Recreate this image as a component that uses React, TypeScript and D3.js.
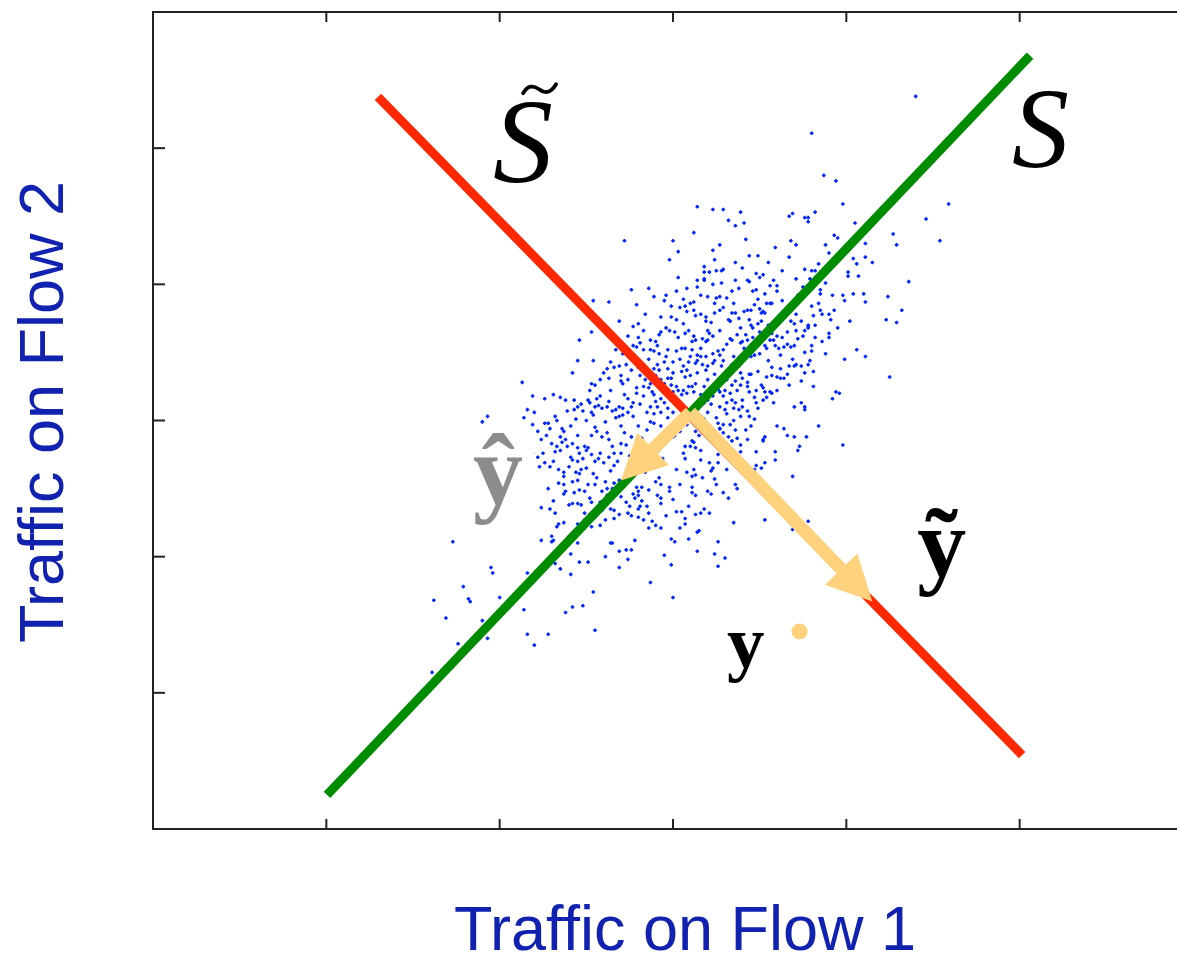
import React from "react";
import * as d3 from "d3";

// Axis ticks (labels are not shown in the figure)
const xTicks = [1, 2, 3, 4, 5];
const yTicks = [1, 2, 3, 4, 5];

// Subspaces (line end points in data units)
const normalSubspace: [number, number][] = [[1.004, 0.25], [5.06, 5.68]];
const anomalousSubspace: [number, number][] = [[1.298, 5.376], [5.014, 0.543]];

// Projection arrows and the measurement point
const projOrigin: [number, number] = [3.1, 3.06];
const projModeled: [number, number] = [2.7, 2.56];
const projResidual: [number, number] = [4.15, 1.67];
const measurement: [number, number] = [3.73, 1.45];

// Traffic samples, grouped by where they sit in the cloud
const upperCloud: [number, number][] = [
  [4.40,5.38],[3.80,5.11],[3.87,4.80],[3.94,4.76],[3.98,4.59],[4.59,4.59],[4.46,4.48],[4.05,4.45],[4.54,4.32],[4.27,4.37],
  [4.29,4.29],[3.14,4.57],[3.23,4.55],[3.29,4.55],[3.39,4.53],[3.32,4.47],[3.36,4.43],[3.41,4.45],[3.12,4.38],[3.00,4.32],
  [2.72,4.32],[3.03,4.24],[2.98,4.18],[3.42,4.33],[3.27,4.29],[3.23,4.25],[3.24,4.18],[3.67,4.50],[3.69,4.52],[3.76,4.49],
  [3.78,4.49],[3.78,4.46],[3.82,4.53],[3.68,4.32],[3.71,4.29],[3.59,4.27],[3.67,4.20],[3.55,4.16],[3.44,4.21],[3.49,4.21],
  [3.36,4.16],[3.40,4.12],[3.93,4.36],[3.95,4.34],[3.88,4.29],[3.90,4.23],[3.84,4.15],[3.82,4.10],[3.80,4.10],[3.76,4.11],
  [3.63,4.10],[4.11,4.30],[4.11,4.20],[4.15,4.16],[4.04,4.19],[4.06,4.15],[4.01,4.09],[4.01,4.06],[4.07,4.06],[3.03,4.05],
  [3.18,4.13],[3.18,4.09],[3.21,4.09],[3.25,4.10],[3.28,4.10],[3.29,4.11],[3.48,4.08],[3.50,4.05],[3.71,4.04],[3.79,4.04],
  [3.18,4.04]
];

const rightCloud: [number, number][] = [
  [4.36,4.02],[4.24,3.91],[4.32,3.81],[4.23,3.74],[4.29,3.72],[4.25,3.32],[4.11,3.87],[4.10,3.93],[4.04,3.93],[3.98,3.92],
  [3.99,3.88],[3.92,3.92],[3.88,4.01],[3.85,3.96],[3.85,3.93],[4.02,3.73],[3.95,3.68],[3.93,3.81],[3.90,3.78],[3.85,3.81],
  [3.86,3.78],[3.81,3.77],[3.80,3.84],[3.78,3.69],[3.74,3.73],[3.90,3.64],[3.90,3.61],[4.06,3.52],[4.11,3.47],[3.99,3.45],
  [3.88,3.49],[3.80,3.55],[3.80,3.51],[3.82,3.61],[3.75,3.62],[3.78,3.68],[3.78,3.70],[3.76,3.66],[3.71,3.66],[3.70,3.71],
  [3.68,3.73],[3.66,3.65],[3.63,3.61],[3.68,3.54],[3.64,3.54],[3.61,3.53],[3.59,3.55],[3.58,3.59],[3.60,3.62],[3.57,3.64],
  [3.60,3.95],[3.56,3.99],[3.58,4.03],[3.53,3.93],[3.48,3.96],[3.46,3.95],[3.43,4.03],[3.44,4.02],[3.34,3.95],[3.28,4.01],
  [3.23,4.00],[3.20,3.91],[3.27,3.91],[3.25,3.90],[3.14,3.98],[3.12,3.87],[3.10,3.86],[3.07,3.84],[3.06,3.89],[3.08,3.97],
  [3.14,4.03],[3.18,4.03],[3.49,3.89],[3.54,3.86],[3.50,3.82],[3.45,3.81],[3.51,3.79],[3.52,3.80],[3.56,3.86],[3.57,3.86],
  [3.43,3.81],[3.41,3.80],[3.35,3.86],[3.34,3.79],[3.24,3.86],[3.27,3.81],[3.24,3.79],[3.19,3.76],[3.19,3.73],[3.16,3.78],
  [3.12,3.81],[3.08,3.80],[3.32,3.74],[3.33,3.73],[3.38,3.75],[3.39,3.68],[3.45,3.70],[3.46,3.68],[3.49,3.71],[3.51,3.73],
  [3.50,3.65],[3.53,3.79],[3.48,3.59],[3.50,3.57],[3.53,3.55],[3.54,3.53],[3.42,3.63],[3.43,3.59],[3.40,3.58],[3.33,3.60],
  [3.34,3.59],[3.20,3.66],[3.21,3.64],[3.23,3.62],[3.20,3.59],[3.19,3.58],[3.12,3.62],[3.11,3.58],[3.13,3.59],[3.07,3.64],
  [3.05,3.53],[3.07,3.53],[3.16,3.53],[3.14,3.48],[3.16,3.47],[3.23,3.49],[3.26,3.51],[3.27,3.48],[3.24,3.44],[3.23,3.42],
  [3.20,3.40],[3.19,3.37],[3.29,3.44],[3.28,3.40],[3.34,3.41],[3.35,3.40],[3.39,3.57],[3.41,3.53],[3.43,3.51],[3.40,3.44],
  [3.42,3.47],[3.45,3.47],[3.47,3.48],[3.50,3.49],[3.45,3.34],[3.44,3.34],[3.39,3.35],[3.40,3.31],[3.39,3.26],[3.36,3.29],
  [3.34,3.26],[3.43,3.25],[3.44,3.21],[3.48,3.22],[3.52,3.24],[3.53,3.21],[3.56,3.21],[3.57,3.20],[3.54,3.17],[3.52,3.15],
  [3.47,3.17],[3.48,3.13],[3.54,3.32],[3.57,3.33],[3.60,3.32],[3.62,3.31],[3.64,3.31],[3.67,3.26],[3.62,3.38],[3.67,3.40],
  [3.70,3.40],[3.71,3.41],[3.74,3.40],[3.78,3.41],[3.76,3.35],[3.81,3.36],[3.81,3.25],[3.70,3.10],[3.74,3.13],[3.76,3.10],
  [3.76,3.08],[3.92,3.16],[3.94,3.21],[3.96,3.20],[3.84,2.96],[3.98,2.82],[3.60,2.96],[3.64,2.94],[3.66,2.89],[3.70,2.88],
  [3.73,2.81],[3.72,2.78],[3.77,2.88],[3.59,2.77],[3.59,2.71],[3.53,2.88],[3.52,2.86],[3.52,2.85],[3.48,2.77],[3.53,2.69],
  [3.51,2.65],[3.48,2.67],[3.47,2.64],[3.69,2.59],[3.45,2.96],[3.42,2.93],[3.39,3.03],[3.44,3.03],[3.43,3.07],[3.40,3.10],
  [3.36,3.13],[3.35,3.09],[3.38,3.08],[3.31,3.13],[3.27,3.10],[3.30,3.08],[3.25,3.02],[3.26,2.98],[3.29,2.97],[3.33,2.97],
  [3.36,2.93],[3.20,3.06],[3.19,2.98],[3.16,3.03],[3.27,2.94],[3.29,2.91],[3.32,2.88],[3.34,2.85],[3.37,2.87],[3.13,2.92],
  [3.15,2.89],[3.17,2.91],[3.11,2.85],[3.13,2.80],[3.10,2.81],[3.07,2.81],[3.16,2.71],[3.21,2.69],[3.23,2.65],[3.22,2.63],
  [3.26,2.69],[3.07,2.72],[3.08,2.62],[3.12,2.64],[3.11,2.59],[3.17,2.58],[3.31,2.64],[3.37,2.75],[3.39,2.77],[3.39,2.82],
  [3.06,3.40],[3.08,3.37],[3.07,3.32],[3.10,3.33],[3.13,3.27],[3.11,3.25],[3.06,3.22],[3.08,3.20],[3.12,3.21],[3.05,3.19],
  [3.14,3.35],[3.13,3.42],[3.09,3.43],[3.10,3.47],[3.14,3.44],[3.18,3.25],[3.20,3.30],[3.22,3.24],[3.25,3.27],[3.27,3.21],
  [3.23,3.18],[3.20,3.15],[3.18,3.13],[3.29,3.18],[3.30,3.22],[3.33,3.20],[3.34,3.15]
];

const leftCloud: [number, number][] = [
  [2.76,3.96],[2.89,3.91],[2.96,3.92],[2.54,3.88],[2.63,3.87],[2.79,3.85],[2.99,3.84],[3.04,3.83],[2.69,3.73],[2.53,3.65],
  [2.46,3.59],[2.77,3.69],[2.80,3.71],[2.93,3.76],[2.96,3.68],[2.98,3.66],[3.02,3.74],[3.01,3.65],[2.93,3.65],[2.92,3.63],
  [2.87,3.59],[2.90,3.58],[2.91,3.55],[2.89,3.51],[2.87,3.52],[2.83,3.52],[2.81,3.57],[2.79,3.54],[2.96,3.47],[2.97,3.52],
  [3.02,3.51],[3.00,3.43],[2.95,3.43],[2.67,3.52],[2.54,3.44],[2.45,3.44],[2.42,3.35],[2.60,3.35],[2.64,3.43],[2.66,3.39],
  [2.69,3.40],[2.63,3.31],[2.58,3.30],[2.53,3.27],[2.70,3.33],[2.70,3.29],[2.74,3.30],[2.76,3.37],[2.80,3.39],[2.84,3.30],
  [2.87,3.27],[2.86,3.24],[2.83,3.25],[2.93,3.30],[2.95,3.27],[2.97,3.31],[2.94,3.24],[2.96,3.20],[3.00,3.21],[3.03,3.22],
  [3.02,3.25],[2.89,3.19],[2.93,3.16],[2.90,3.14],[2.95,3.13],[2.99,3.15],[2.97,3.09],[3.00,3.06],[3.03,3.11],[2.87,3.10],
  [2.85,3.06],[2.89,3.05],[2.93,3.06],[2.83,3.18],[2.79,3.20],[2.77,3.13],[2.76,3.10],[2.74,3.16],[2.69,3.10],[2.71,3.09],
  [2.67,3.08],[2.74,3.06],[2.69,3.03],[2.71,3.04],[2.58,3.18],[2.57,3.11],[2.59,3.09],[2.62,3.10],[2.65,3.07],[2.67,3.02],
  [2.52,3.22],[2.51,3.15],[2.52,3.13],[2.55,3.10],[2.54,3.04],[2.50,3.00],[2.43,3.15],[2.43,3.08],[2.45,3.10],[2.48,3.07],
  [2.38,3.15],[2.39,3.07],[2.41,2.96],[2.37,2.92],[2.35,2.88],[2.38,2.86],[2.31,3.19],[2.35,3.17],[2.26,3.16],[2.32,3.03],
  [2.33,3.00],[2.28,2.98],[2.29,2.94],[2.19,3.18],[2.16,3.08],[2.14,3.02],[2.20,3.06],[2.19,2.97],[2.26,2.98],[2.13,3.28],
  [1.90,2.99],[1.93,3.03],[1.72,2.59],[2.22,2.92],[2.27,2.89],[2.24,2.86],[2.30,2.83],[2.33,2.81],[2.35,2.78],[2.36,2.84],
  [2.39,2.81],[2.42,2.83],[2.45,2.80],[2.46,2.76],[2.49,2.81],[2.51,2.80],[2.48,2.72],[2.45,2.70],[2.42,2.71],[2.53,2.75],
  [2.55,2.70],[2.58,2.76],[2.60,2.69],[2.63,2.73],[2.66,2.67],[2.68,2.70],[2.70,2.76],[2.65,2.81],[2.70,2.83],[2.73,2.82],
  [2.76,2.88],[2.62,2.91],[2.59,2.88],[2.56,2.92],[2.53,2.89],[2.19,2.76],[2.22,2.73],[2.25,2.76],[2.26,2.69],[2.23,2.66],
  [2.29,2.66],[2.31,2.70],[2.34,2.64],[2.37,2.62],[2.40,2.66],[2.44,2.62],[2.46,2.61],[2.50,2.65],[2.54,2.61],[2.80,2.96],
  [2.85,2.93],[2.89,2.98],[2.93,2.96],[2.97,2.93],[3.00,2.88],[3.04,2.92],[2.80,3.61],[2.77,3.55],[2.86,3.45],[2.89,3.38],
  [2.92,3.37],[2.90,3.33],[2.97,3.38],[3.00,3.35]
];

const lowerCloud: [number, number][] = [
  [1.73,2.56],[1.77,2.33],[1.73,2.11],[1.95,1.92],[1.96,1.88],[1.79,1.78],[1.62,1.68],[1.82,1.69],[1.83,1.67],[2.00,1.70],
  [1.69,1.55],[1.90,1.53],[1.76,1.36],[1.93,1.40],[1.61,1.15],[2.16,1.88],[2.14,1.61],[2.16,1.43],[2.20,1.35],[2.28,1.43],
  [2.38,1.59],[2.42,1.63],[2.48,1.64],[2.54,1.74],[2.55,1.46],[2.87,1.81],[3.00,1.70],[2.41,1.87],[2.35,1.91],[2.32,1.95],
  [2.46,1.96],[2.51,1.96],[2.41,2.02],[2.61,2.00],[2.69,1.92],[2.74,1.98],[2.64,2.10],[2.65,2.10],[2.69,2.04],[2.73,2.05],
  [2.76,2.05],[2.78,2.12],[2.45,2.10],[2.30,2.15],[2.31,2.12],[2.30,2.11],[2.24,2.12],[2.33,2.22],[2.34,2.24],[2.37,2.25],
  [2.32,2.32],[2.31,2.41],[2.29,2.35],[2.24,2.36],[2.28,2.50],[2.37,2.46],[2.38,2.48],[2.40,2.38],[2.42,2.39],[2.45,2.39],
  [2.47,2.38],[2.49,2.32],[2.49,2.27],[2.46,2.49],[2.49,2.48],[2.51,2.53],[2.55,2.53],[2.53,2.40],[2.45,2.24],[2.48,2.23],
  [2.53,2.22],[2.58,2.23],[2.61,2.27],[2.59,2.34],[2.64,2.35],[2.66,2.34],[2.62,2.45],[2.65,2.50],[2.61,2.55],[2.66,2.54],
  [2.69,2.56],[2.73,2.40],[2.75,2.37],[2.76,2.30],[2.80,2.35],[2.80,2.29],[2.81,2.37],[2.82,2.41],[2.69,2.31],[2.77,2.46],
  [2.79,2.51],[2.82,2.51],[2.78,2.43],[2.80,2.45],[2.86,2.49],[2.90,2.55],[2.93,2.53],[2.98,2.48],[2.98,2.51],[3.04,2.53],
  [3.11,2.51],[3.11,2.47],[2.93,2.43],[2.93,2.39],[2.86,2.32],[2.88,2.26],[2.83,2.27],[2.86,2.21],[2.90,2.23],[2.93,2.21],
  [3.02,2.33],[3.05,2.33],[3.07,2.28],[3.04,2.21],[3.07,2.24],[2.99,2.13],[3.01,2.11],[3.09,2.13],[3.13,2.31],[3.16,2.32],
  [3.18,2.35],[3.21,2.32],[3.20,2.48],[3.22,2.46],[3.29,2.47],[3.32,2.43],[3.36,2.53],[3.37,2.50],[3.14,2.18],[3.15,2.19],
  [3.14,2.04],[2.95,2.01],[2.99,1.94],[3.26,2.11],[3.24,2.02],[3.30,1.99],[3.26,1.93],[3.35,2.25],[3.25,2.53],[2.37,2.53],
  [2.34,2.54],[2.42,2.55],[2.45,2.56],[2.59,2.48],[2.58,2.40],[2.52,2.31],[2.55,2.29]
];

const coreCloud: [number, number][] = [
  [2.86,3.97],[2.95,3.88],[3.02,3.95],[3.16,3.92],[3.31,3.90],[3.38,3.97],[3.47,3.85],[3.63,3.88],[3.72,3.92],[3.29,3.83],
  [2.84,3.78],[2.99,3.76],[3.06,3.71],[3.13,3.77],[3.22,3.72],[3.36,3.79],[3.44,3.74],[3.55,3.70],[3.63,3.77],[3.71,3.78],
  [2.74,3.62],[2.83,3.66],[3.03,3.61],[3.09,3.66],[3.17,3.60],[3.27,3.66],[3.31,3.56],[3.37,3.63],[3.46,3.61],[3.56,3.59],
  [3.66,3.56],[3.72,3.60],[2.71,3.49],[2.78,3.46],[2.92,3.49],[3.04,3.45],[3.11,3.52],[3.19,3.47],[3.29,3.52],[3.35,3.47],
  [3.46,3.53],[3.55,3.44],[3.62,3.48],[3.69,3.45],[2.62,3.38],[2.73,3.41],[2.81,3.33],[2.91,3.41],[2.99,3.31],[3.05,3.36],
  [3.17,3.41],[3.24,3.34],[3.31,3.30],[3.38,3.40],[3.49,3.36],[3.57,3.39],[3.66,3.34],[2.55,3.26],[2.64,3.22],[2.71,3.27],
  [2.79,3.24],[2.88,3.21],[2.99,3.26],[3.09,3.25],[3.16,3.19],[3.26,3.23],[3.37,3.22],[3.43,3.28],[3.51,3.26],[3.60,3.22],
  [2.47,3.12],[2.56,3.16],[2.63,3.14],[2.72,3.19],[2.81,3.12],[2.91,3.10],[3.02,3.14],[3.14,3.08],[3.22,3.12],[3.31,3.05],
  [3.40,3.15],[3.49,3.09],[3.58,3.13],[2.44,3.01],[2.53,3.06],[2.61,2.99],[2.70,2.96],[2.77,3.03],[2.87,2.99],[2.97,3.02],
  [3.08,2.97],[3.18,3.01],[3.27,2.94],[3.35,3.00],[3.47,3.01],[2.36,2.94],[2.45,2.89],[2.55,2.95],[2.63,2.86],[2.72,2.91],
  [2.82,2.87],[2.93,2.85],[3.01,2.89],[3.12,2.84],[3.22,2.90],[3.30,2.83],[3.43,2.86],[2.32,2.77],[2.41,2.73],[2.50,2.78],
  [2.57,2.72],[2.66,2.76],[2.75,2.74],[2.85,2.79],[2.94,2.72],[3.06,2.76],[3.16,2.78],[3.26,2.75],[3.34,2.72],[2.37,2.59],
  [2.47,2.64],[2.56,2.58],[2.64,2.63],[2.73,2.57],[2.84,2.62],[2.92,2.58],[3.02,2.64],[3.13,2.60],[3.24,2.57],[2.43,2.47],
  [2.52,2.43],[2.62,2.50],[2.70,2.44],[2.80,2.48],[2.91,2.45],[3.00,2.42],[3.13,2.45],[2.55,2.33],[2.66,2.28],[2.74,2.32],
  [2.85,2.37],[2.96,2.30],[3.09,2.37],[3.36,4.03],[3.52,4.07],[3.60,3.99],[3.75,3.98],[3.84,3.86],[3.91,3.74],[3.82,3.70],
  [3.86,3.58],[3.76,3.50],[3.70,3.55],[3.79,3.44],[3.74,3.29]
];

const farCloud: [number, number][] = [
  [3.53,2.27],[3.69,2.20],[3.78,2.26]
];

const W = 1177;
const H = 962;
const FRAME = { left: 153, right: 1193, top: 12, bottom: 829 };

const BLUE_TEXT = "#1122b0";
const DOT = "#0026ff";
const ARROW = "#fed27d";

function Arrow({ from, to, x, y }: { from: [number, number]; to: [number, number]; x: any; y: any }) {
  const x0 = x(from[0]), y0 = y(from[1]);
  const x1 = x(to[0]), y1 = y(to[1]);
  const dx = x1 - x0, dy = y1 - y0;
  const len = Math.hypot(dx, dy);
  const ux = dx / len, uy = dy / len;
  const head = 45, half = 22.5;
  const bx = x1 - ux * head, by = y1 - uy * head;
  const px = -uy, py = ux;
  return (
    <g>
      <line x1={x0} y1={y0} x2={bx + ux * 2} y2={by + uy * 2} stroke={ARROW} strokeWidth={13} />
      <polygon
        points={`${x1},${y1} ${bx + px * half},${by + py * half} ${bx - px * half},${by - py * half}`}
        fill={ARROW}
      />
    </g>
  );
}

export default function App() {
  const x = d3.scaleLinear().domain([0, 6]).range([FRAME.left, FRAME.right]);
  const y = d3.scaleLinear().domain([0, 6]).range([FRAME.bottom, FRAME.top]);
  const line = d3.line<[number, number]>().x((d) => x(d[0])).y((d) => y(d[1]));
  const samples = [...upperCloud, ...rightCloud, ...leftCloud, ...lowerCloud, ...coreCloud, ...farCloud];
  const serif = "'Liberation Serif', 'DejaVu Serif', serif";

  const sX = x(2.135), sY = y(4.75);

  return (
    <svg width={W} height={H} style={{ position: "absolute", left: 0, top: 0, background: "#fff" }}>
      {/* frame */}
      <g stroke="#222" strokeWidth={2} fill="none">
        <line x1={FRAME.left} y1={FRAME.top} x2={FRAME.left} y2={FRAME.bottom} />
        <line x1={FRAME.left - 1} y1={FRAME.bottom} x2={W} y2={FRAME.bottom} />
        <line x1={FRAME.left - 1} y1={FRAME.top} x2={W} y2={FRAME.top} />
        {xTicks.map((t) => (
          <g key={"x" + t}>
            <line x1={x(t)} x2={x(t)} y1={FRAME.bottom} y2={FRAME.bottom - 10} />
            <line x1={x(t)} x2={x(t)} y1={FRAME.top} y2={FRAME.top + 10} />
          </g>
        ))}
        {yTicks.map((t) => (
          <line key={"y" + t} x1={FRAME.left} x2={FRAME.left + 12} y1={y(t)} y2={y(t)} />
        ))}
      </g>

      {/* samples */}
      <g fill={DOT}>
        {samples.map((d, i) => (
          <path
            key={i}
            transform={`translate(${x(d[0])},${y(d[1])})`}
            d="M-1.8,-0.8h3.6v1.6h-3.6zM-0.8,-1.8h1.6v3.6h-1.6zM-1.2,-1.2h2.4v2.4h-2.4z"
          />
        ))}
      </g>

      {/* label box behind y-hat */}
      <rect x={x(1.66)} y={y(2.95)} width={x(2.2) - x(1.66)} height={y(2.18) - y(2.95)} fill="#fff" />

      {/* subspaces */}
      <path d={line(anomalousSubspace) || ""} stroke="#ff2800" strokeWidth={9} fill="none" />
      <path d={line(normalSubspace) || ""} stroke="#008c00" strokeWidth={9} fill="none" />

      {/* projections */}
      <Arrow from={projOrigin} to={projModeled} x={x} y={y} />
      <Arrow from={projOrigin} to={projResidual} x={x} y={y} />
      <circle cx={x(measurement[0])} cy={y(measurement[1])} r={8} fill={ARROW} />

      {/* math labels */}
      <g fontFamily={serif} fill="#000">
        <text x={sX} y={sY} fontSize={120} fontStyle="italic" textAnchor="middle">S</text>
        <path
          d={`M${sX},${sY - 89} c5,-8 10,-8 16,-4 c5,4 11,5 17,-5`}
          stroke="#000"
          strokeWidth={3.8}
          fill="none"
          strokeLinecap="round"
        />
        <text x={x(5.12)} y={y(4.86)} fontSize={114} fontStyle="italic" textAnchor="middle">S</text>
        <text x={x(1.99)} y={y(2.39)} fontSize={100} fontWeight="bold" textAnchor="middle" fill="#8c8c8c">ŷ</text>
        <text x={x(4.55)} y={y(1.86)} fontSize={98} fontWeight="bold" textAnchor="middle">ỹ</text>
        <text x={x(3.42)} y={y(1.19)} fontSize={75} fontWeight="bold" textAnchor="middle">y</text>
      </g>

      {/* axis titles */}
      <text
        x={685}
        y={950}
        fontFamily="'Liberation Sans', Arial, sans-serif"
        fontSize={63}
        fill={BLUE_TEXT}
        textAnchor="middle"
      >
        Traffic on Flow 1
      </text>
      <text
        transform={`translate(63,412) rotate(-90)`}
        fontFamily="'Liberation Sans', Arial, sans-serif"
        fontSize={63}
        fill={BLUE_TEXT}
        textAnchor="middle"
      >
        Traffic on Flow 2
      </text>
    </svg>
  );
}
